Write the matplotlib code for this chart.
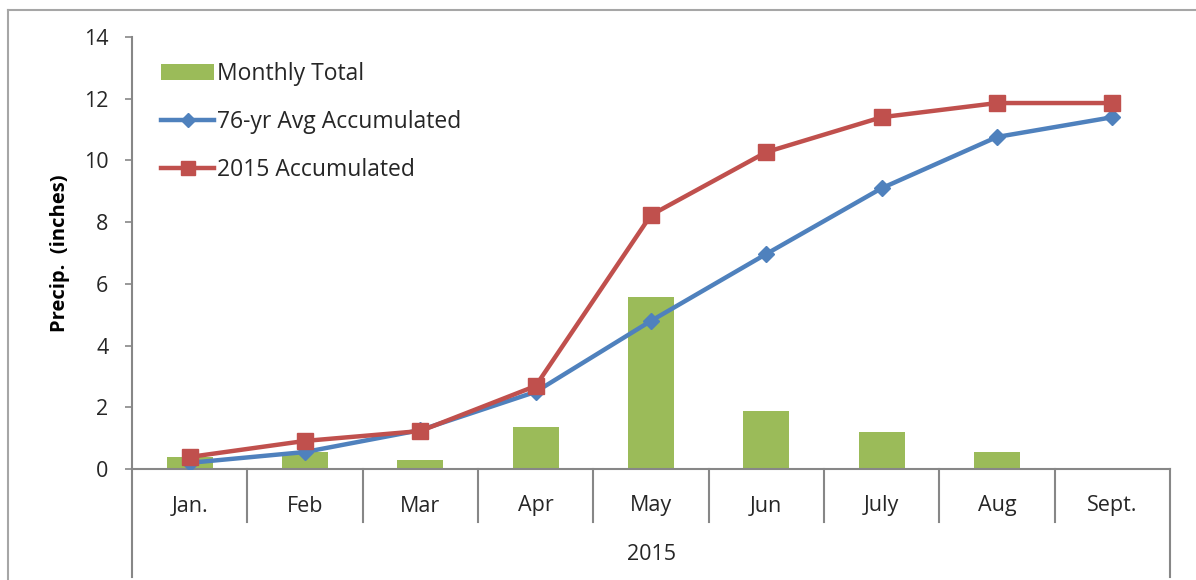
import matplotlib
matplotlib.use("Agg")
import matplotlib.pyplot as plt
from matplotlib.lines import Line2D
import numpy as np

months = ["Jan.", "Feb", "Mar", "Apr", "May", "Jun", "July", "Aug", "Sept."]
group_label = "2015"
monthly_total = [0.40, 0.55, 0.28, 1.37, 5.57, 1.89, 1.19, 0.54, 0.0]
avg_accum = [0.20, 0.55, 1.26, 2.50, 4.80, 6.97, 9.10, 10.76, 11.40]
accum_2015 = [0.39, 0.91, 1.23, 2.69, 8.23, 10.27, 11.40, 11.86, 11.86]
yticks = [0, 2, 4, 6, 8, 10, 12, 14]

plt.rcParams['font.family'] = ['Open Sans', 'DejaVu Sans']

W, H = 1196, 580
fig = plt.figure(figsize=(W / 100, H / 100), dpi=100)
L, R, B, T = 132, 1170, 469, 37
ax = fig.add_axes([L / W, 1 - B / H, (R - L) / W, (B - T) / H])

green = "#9BBB59"
blue = "#4F81BD"
red = "#C0504D"
gray = "#878787"
txt = "#262626"
fs = 15.5

x = np.arange(len(months))
bars = ax.bar(x, monthly_total, width=0.4, color=green, label="Monthly Total", zorder=2)
l1, = ax.plot(x, avg_accum, color=blue, lw=3.2, marker="D", ms=8, label="76-yr Avg Accumulated", zorder=3)
l2, = ax.plot(x, accum_2015, color=red, lw=3.2, marker="s", ms=11, label="2015 Accumulated", zorder=4)

ax.set_xlim(-0.5, len(months) - 0.5)
ax.set_ylim(0, 14)
ax.set_yticks(yticks)
ax.set_yticklabels([str(v) for v in yticks], fontsize=fs, color=txt)
ax.tick_params(axis="y", direction="out", length=5, width=1.2, color=gray, pad=12)
ax.set_xticks([])

for s in ["top", "right"]:
    ax.spines[s].set_visible(False)
for s in ["left", "bottom"]:
    ax.spines[s].set_color(gray)
    ax.spines[s].set_linewidth(1.5)

axh = B - T
trans = ax.get_xaxis_transform()
for i in range(len(months) + 1):
    xb = i - 0.5
    if i == 0 or i == len(months):
        y2 = -(577 - B) / axh
    else:
        y2 = -(522 - B) / axh
    ax.add_line(Line2D([xb, xb], [0, y2], transform=trans, color=gray, lw=1.5, clip_on=False))

for i, m in enumerate(months):
    ax.text(i, -(506 - B) / axh, m, transform=trans, ha="center", va="center", fontsize=fs, color=txt)
ax.text((len(months) - 1) / 2, -(554 - B) / axh, group_label, transform=trans, ha="center", va="center",
        fontsize=fs, color=txt)

ax.set_ylabel("Precip.  (inches)", fontsize=14.5, fontweight="bold", color="black", labelpad=10)

leg = ax.legend([bars, l1, l2], ["Monthly Total", "76-yr Avg Accumulated", "2015 Accumulated"],
                loc="upper left", bbox_to_anchor=(0.015, 0.975), frameon=False, fontsize=16.5,
                handlelength=2.3, handletextpad=0.15, labelspacing=1.05, borderaxespad=0.2,
                markerscale=0.9, numpoints=1)
for t in leg.get_texts():
    t.set_color(txt)

fig.add_artist(Line2D([8 / W, 1], [1 - 10 / H, 1 - 10 / H], transform=fig.transFigure, color="#A6A6A6", lw=1.5))
fig.add_artist(Line2D([8 / W, 8 / W], [0, 1 - 10 / H], transform=fig.transFigure, color="#A6A6A6", lw=1.5))

fig.savefig("out.png", dpi=100)
